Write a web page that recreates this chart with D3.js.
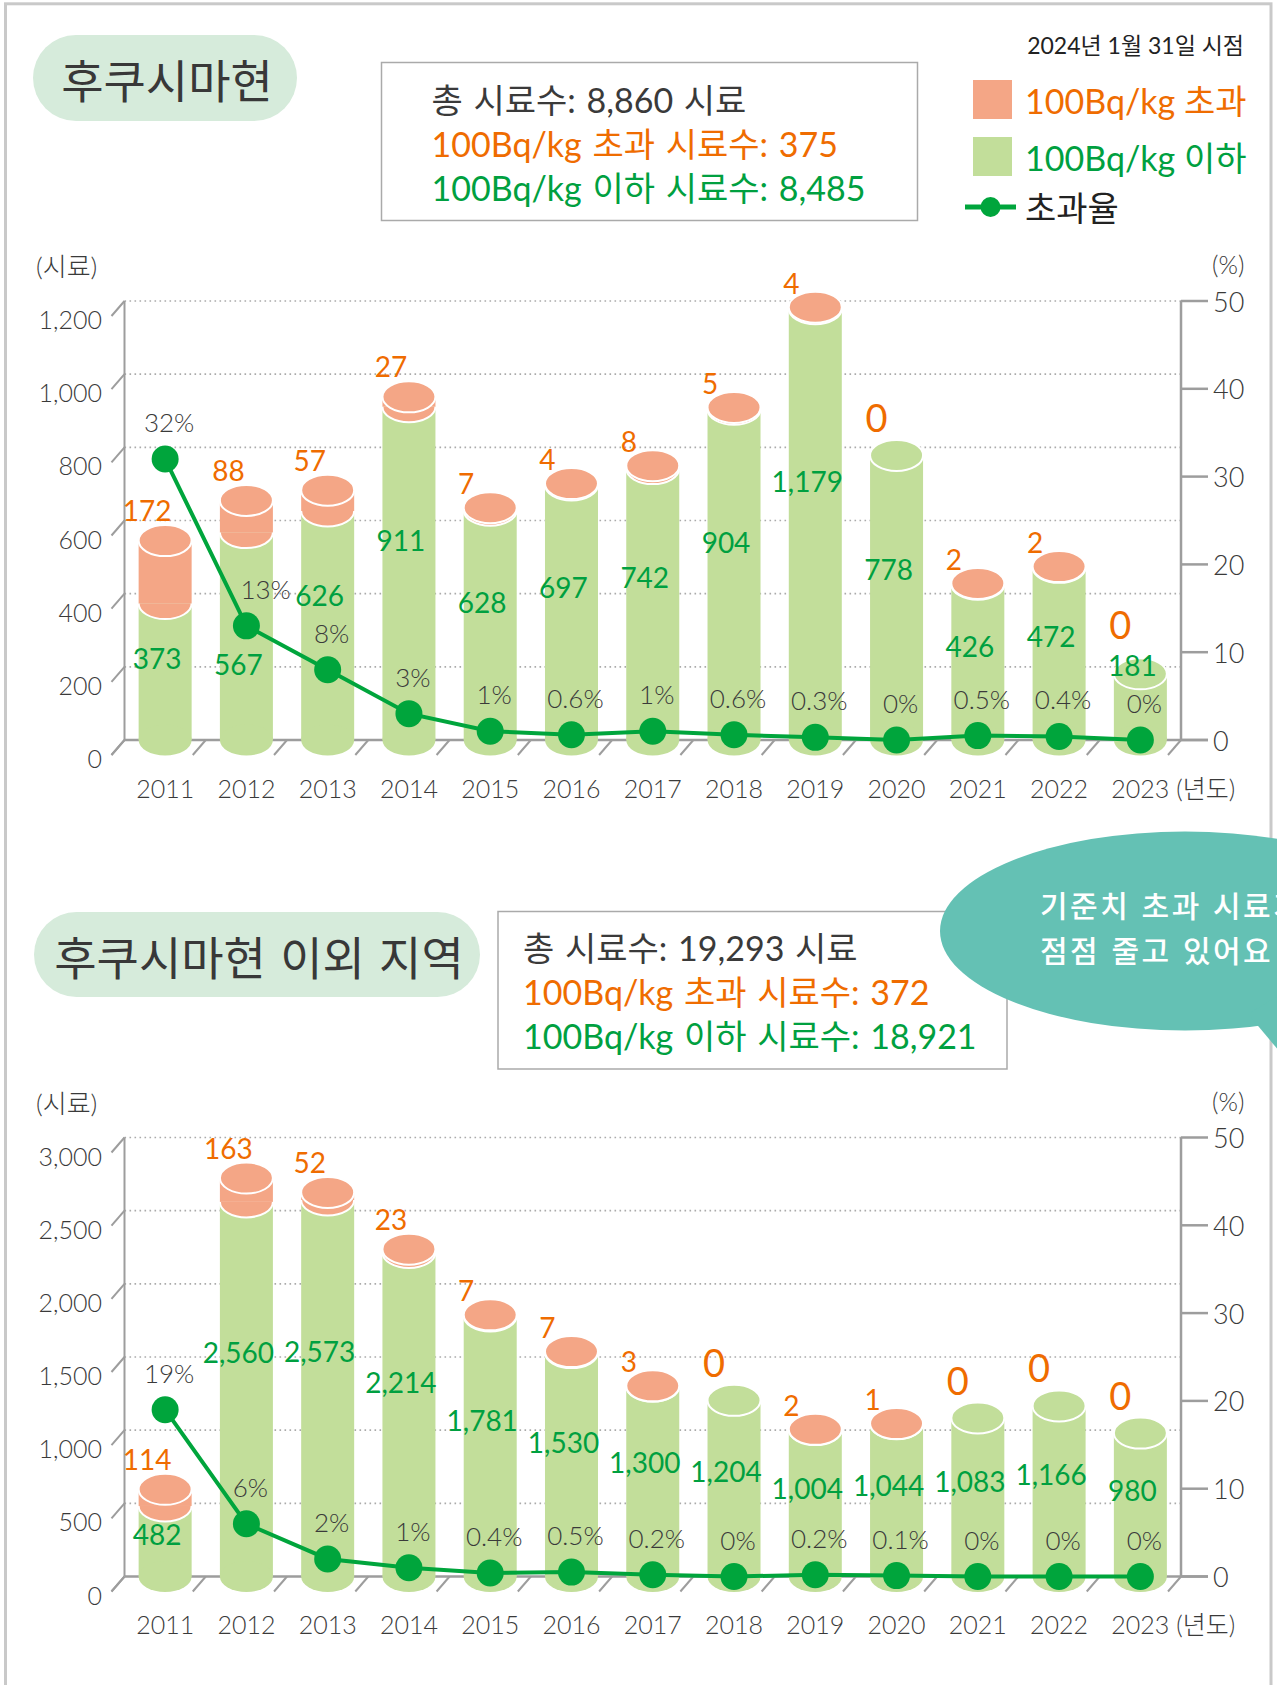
<!DOCTYPE html>
<html>
<head>
<meta charset="utf-8">
<script src="https://cdn.jsdelivr.net/npm/d3@7"></script>
<style>
  body { margin: 0; background: #fff; }
  svg { display: block; font-family: "Noto Sans CJK KR", "Noto Sans", sans-serif; }
  .num { font-family: Lato, "Noto Sans CJK KR", sans-serif; font-weight: 300; }
  .val { font-family: Lato, "Noto Sans CJK KR", sans-serif; font-weight: 400; }
  .mix { font-family: Lato, "Noto Sans CJK KR", sans-serif; font-weight: 400; }
</style>
</head>
<body>
<svg id="chart" width="1277" height="1685"></svg>
<script>
// --- data ---
const years = [2011, 2012, 2013, 2014, 2015, 2016, 2017, 2018, 2019, 2020, 2021, 2022, 2023];

// Fukushima prefecture
const fkOver  = [172, 88, 57, 27, 7, 4, 8, 5, 4, 0, 2, 2, 0];
const fkUnder = [373, 567, 626, 911, 628, 697, 742, 904, 1179, 778, 426, 472, 181];
const fkRate  = [32, 13, 8, 3, 1, 0.6, 1, 0.6, 0.3, 0, 0.5, 0.4, 0];
const fkTicks = [0, 200, 400, 600, 800, 1000, 1200];
const fkSummary = ["총 시료수: 8,860 시료", "100Bq/kg 초과 시료수: 375", "100Bq/kg 이하 시료수: 8,485"];

// outside Fukushima
const otOver  = [114, 163, 52, 23, 7, 7, 3, 0, 2, 1, 0, 0, 0];
const otUnder = [482, 2560, 2573, 2214, 1781, 1530, 1300, 1204, 1004, 1044, 1083, 1166, 980];
const otRate  = [19, 6, 2, 1, 0.4, 0.5, 0.2, 0, 0.2, 0.1, 0, 0, 0];
const otTicks = [0, 500, 1000, 1500, 2000, 2500, 3000];
const otSummary = ["총 시료수: 19,293 시료", "100Bq/kg 초과 시료수: 372", "100Bq/kg 이하 시료수: 18,921"];

const rateTicks = [0, 10, 20, 30, 40, 50];

// --- colours ---
const ORANGE = "#ef6c00", GREEN = "#00a040", DARK = "#3a3a3a";
const FILL_OVER = "#f4a686", FILL_UNDER = "#c2de9a", DOT = "#00a53c";
const AXIS = "#9d9d9d";

const svg = d3.select("#chart");
const fmt = d3.format(",");

// outer frame
svg.append("rect")
  .attr("x", 5.5).attr("y", 3.8).attr("width", 1265.5).attr("height", 1720)
  .attr("fill", "none").attr("stroke", "#c9c9c9").attr("stroke-width", 3);

function header(title, pill, box, lines) {
  svg.append("rect")
    .attr("x", pill.x).attr("y", pill.y).attr("width", pill.w).attr("height", pill.h)
    .attr("rx", pill.h / 2).attr("fill", "#d6ebdb");
  svg.append("text")
    .attr("x", pill.x + pill.w / 2 + 2).attr("y", pill.y + pill.h / 2)
    .attr("text-anchor", "middle").attr("dominant-baseline", "central")
    .attr("font-size", 46).attr("word-spacing", 4).attr("fill", "#383838").text(title);

  svg.append("rect")
    .attr("x", box.x).attr("y", box.y).attr("width", box.w).attr("height", box.h)
    .attr("fill", "#fff").attr("stroke", "#aaa").attr("stroke-width", 1.5);
  svg.selectAll(null).data(lines).join("text")
    .attr("class", "mix")
    .attr("x", box.x + box.pad)
    .attr("y", (d, i) => box.y + box.first + i * 44)
    .attr("dominant-baseline", "central")
    .attr("font-size", 34).attr("word-spacing", 2)
    .attr("fill", (d, i) => [DARK, ORANGE, GREEN][i])
    .text(d => d);
}

function overlaps(a, b) {
  return a.x < b.x + b.width && b.x < a.x + a.width && a.y < b.y + b.height && b.y < a.y + a.height;
}

function drawPanel(over, under, rate, ticks, floor) {
  const top = floor - 439;
  const SX = -13, SY = 15;         // depth slant of the floor
  const rx = 26.5, ry = 15.5;      // cylinder ellipse
  const x = d3.scaleBand().domain(years).range([124.5, 1181]);
  const y = d3.scaleLinear().domain([0, ticks[ticks.length - 1]]).range([floor, top]);
  const yr = d3.scaleLinear().domain([0, 50]).range([floor, top]);
  const cx = d => x(d) + x.bandwidth() / 2;
  const g = svg.append("g");

  // dotted grid on the back wall
  g.append("g").selectAll("line").data(ticks.slice(1)).join("line")
    .attr("x1", 124.5).attr("x2", 1181)
    .attr("y1", d => y(d)).attr("y2", d => y(d))
    .attr("stroke", "#aaa").attr("stroke-width", 1.6).attr("stroke-dasharray", "1.6,3.4");

  // left axis
  g.append("line").attr("x1", 124.5).attr("x2", 124.5).attr("y1", top).attr("y2", floor)
    .attr("stroke", AXIS).attr("stroke-width", 2);
  g.append("g").selectAll("line").data(ticks).join("line")
    .attr("x1", 124.5).attr("y1", d => y(d))
    .attr("x2", 124.5 + SX).attr("y2", d => y(d) + SY)
    .attr("stroke", AXIS).attr("stroke-width", 2);
  g.append("g").selectAll("text").data(ticks).join("text")
    .attr("class", "num")
    .attr("x", 102).attr("y", d => y(d) + 18)
    .attr("text-anchor", "end").attr("dominant-baseline", "central")
    .attr("font-size", 25).attr("fill", DARK)
    .text(d => fmt(d));
  g.append("text").attr("class", "num").attr("x", 36).attr("y", top - 35)
    .attr("dominant-baseline", "central").attr("font-size", 26)
    .attr("fill", DARK).text("(시료)");

  // floor
  g.append("line").attr("x1", 124.5).attr("x2", 1208).attr("y1", floor).attr("y2", floor)
    .attr("stroke", AXIS).attr("stroke-width", 2.5);
  g.append("g").selectAll("line").data(years.map(d => x(d)).concat([x.range()[1]])).join("line")
    .attr("x1", d => d).attr("y1", floor)
    .attr("x2", d => d + SX).attr("y2", floor + SY)
    .attr("stroke", AXIS).attr("stroke-width", 2);

  // right axis (%)
  g.append("line").attr("x1", 1181).attr("x2", 1181).attr("y1", top).attr("y2", floor)
    .attr("stroke", AXIS).attr("stroke-width", 2.5);
  g.append("g").selectAll("line").data(rateTicks).join("line")
    .attr("x1", 1181).attr("x2", 1208).attr("y1", d => yr(d)).attr("y2", d => yr(d))
    .attr("stroke", AXIS).attr("stroke-width", 2.5);
  g.append("g").selectAll("text").data(rateTicks).join("text")
    .attr("class", "num")
    .attr("x", 1213).attr("y", d => yr(d))
    .attr("dominant-baseline", "central")
    .attr("font-size", 27).attr("fill", DARK)
    .text(d => d);
  g.append("text").attr("class", "num").attr("x", 1212).attr("y", top - 37)
    .attr("dominant-baseline", "central").attr("font-size", 25)
    .attr("fill", DARK).text("(%)");

  // year labels
  g.append("g").selectAll("text").data(years).join("text")
    .attr("class", "num")
    .attr("x", d => cx(d)).attr("y", floor + 47.5)
    .attr("text-anchor", "middle").attr("dominant-baseline", "central")
    .attr("font-size", 25).attr("fill", DARK)
    .text(d => d);
  g.append("text").attr("class", "num")
    .attr("x", cx(years[years.length - 1]) + 36).attr("y", floor + 47.5)
    .attr("dominant-baseline", "central").attr("font-size", 25)
    .attr("fill", DARK).text("(년도)");

  // cylinders
  const bars = g.append("g");
  years.forEach((yy, i) => {
    const c = cx(yy);
    const yG = y(under[i]), yT = y(under[i] + over[i]);
    bars.append("rect").attr("x", c - rx).attr("y", yG).attr("width", 2 * rx)
      .attr("height", floor - yG).attr("fill", FILL_UNDER);
    bars.append("ellipse").attr("cx", c).attr("cy", floor).attr("rx", rx).attr("ry", ry)
      .attr("fill", FILL_UNDER);
    if (over[i] > 0) {
      bars.append("rect").attr("x", c - rx).attr("y", yT).attr("width", 2 * rx)
        .attr("height", yG - yT).attr("fill", FILL_OVER);
      const arc = `M${c - rx},${yG} A${rx},${ry} 0 0 0 ${c + rx},${yG}`;
      bars.append("path").attr("d", arc + " Z").attr("fill", FILL_OVER);
      bars.append("path").attr("d", arc).attr("fill", "none")
        .attr("stroke", "#fff").attr("stroke-width", 2);
    }
    bars.append("ellipse").attr("cx", c).attr("cy", yT).attr("rx", rx).attr("ry", ry)
      .attr("fill", over[i] > 0 ? FILL_OVER : FILL_UNDER)
      .attr("stroke", "#fff").attr("stroke-width", 2);
  });

  // rate line + dots
  const pts = years.map((yy, i) => [cx(yy), yr(rate[i])]);
  g.append("path").attr("d", d3.line()(pts)).attr("fill", "none")
    .attr("stroke", DOT).attr("stroke-width", 4);
  g.append("g").selectAll("circle").data(pts).join("circle")
    .attr("cx", d => d[0]).attr("cy", d => d[1]).attr("r", 13.5).attr("fill", DOT);

  const labels = g.append("g");
  years.forEach((yy, i) => {
    const c = cx(yy);
    const dotY = pts[i][1];

    // percentage label, pushed clear of the incoming line segment
    const pctY = dotY - 37;
    const t = labels.append("text").attr("class", "num")
      .attr("x", c + 4).attr("y", pctY)
      .attr("text-anchor", "middle").attr("dominant-baseline", "central")
      .attr("font-size", 26).attr("fill", DARK)
      .text(rate[i] + "%");
    const w = t.node().getComputedTextLength();
    if (i > 0) {
      const [x0, y0] = pts[i - 1], [x1, y1] = pts[i];
      if ((pctY - y0) * (pctY - y1) < 0) {
        const xl = x0 + (pctY - y0) / (y1 - y0) * (x1 - x0);
        if (c + 4 - w / 2 < xl + 12) t.attr("x", xl + 12 + w / 2);
      }
    }

    // exceed count label above the cylinder
    const yT = y(under[i] + over[i]);
    const zero = over[i] === 0;
    const single = over[i] < 10;
    const ot = labels.append("text").attr("class", "val")
      .attr("x", c + (zero ? -20 : single ? -24 : -18))
      .attr("y", yT - ry - (zero ? 23 : single ? 9 : 15))
      .attr("text-anchor", "middle").attr("dominant-baseline", "central")
      .attr("font-size", zero ? 38 : 28).attr("fill", ORANGE)
      .text(fmt(over[i]));

    // below-limit count label inside the green body
    const yG = y(under[i]);
    let ly = yG + 0.4 * (floor - yG);
    if (Math.abs(ly - dotY) < 28) ly = dotY + 38;
    if (Math.abs(ly - pctY) < 36) ly = pctY - 38;
    const gt = labels.append("text").attr("class", "val")
      .attr("x", c - 8).attr("y", ly)
      .attr("text-anchor", "middle").attr("dominant-baseline", "central")
      .attr("font-size", 28).attr("fill", GREEN)
      .text(fmt(under[i]));

    // keep the exceed label above the green one when the bar is short
    const a = ot.node().getBBox(), b = gt.node().getBBox();
    if (overlaps(a, b)) ot.attr("y", +ot.attr("y") - (a.y + a.height - b.y) - 1);
  });
}

// --- top block ---
header("후쿠시마현", {x: 33, y: 35, w: 264, h: 86},
  {x: 381.5, y: 62.5, w: 536, h: 158, pad: 50, first: 36.5}, fkSummary);

svg.append("text").attr("class", "mix").attr("x", 1244).attr("y", 45).attr("text-anchor", "end")
  .attr("dominant-baseline", "central").attr("font-size", 23).attr("fill", "#222")
  .text("2024년 1월 31일 시점");

// legend
const legend = svg.append("g").attr("class", "mix");
legend.append("rect").attr("x", 973).attr("y", 80).attr("width", 39).attr("height", 39).attr("fill", FILL_OVER);
legend.append("text").attr("x", 1025).attr("y", 100).attr("dominant-baseline", "central")
  .attr("font-size", 34).attr("fill", ORANGE).text("100Bq/kg 초과");
legend.append("rect").attr("x", 973).attr("y", 137).attr("width", 39).attr("height", 39).attr("fill", FILL_UNDER);
legend.append("text").attr("x", 1025).attr("y", 157).attr("dominant-baseline", "central")
  .attr("font-size", 34).attr("fill", GREEN).text("100Bq/kg 이하");
legend.append("line").attr("x1", 965).attr("x2", 1016).attr("y1", 207).attr("y2", 207)
  .attr("stroke", DOT).attr("stroke-width", 5);
legend.append("circle").attr("cx", 990.5).attr("cy", 207).attr("r", 10).attr("fill", DOT);
legend.append("text").attr("x", 1025).attr("y", 207).attr("dominant-baseline", "central")
  .attr("font-size", 34).attr("fill", "#222").text("초과율");

drawPanel(fkOver, fkUnder, fkRate, fkTicks, 740);

// --- bottom block ---
header("후쿠시마현 이외 지역", {x: 34, y: 912, w: 446, h: 85},
  {x: 498, y: 911.5, w: 509, h: 157.5, pad: 25, first: 35.5}, otSummary);

drawPanel(otOver, otUnder, otRate, otTicks, 1576.5);

// speech bubble
svg.append("ellipse").attr("cx", 1185).attr("cy", 931).attr("rx", 245).attr("ry", 99.5)
  .attr("fill", "#64c1b4");
svg.append("path").attr("d", "M1248,1014 L1280,1052 L1280,995 Z").attr("fill", "#64c1b4");
svg.selectAll(null).data(["기준치 초과 시료가", "점점 줄고 있어요"]).join("text")
  .attr("x", 1040).attr("y", (d, i) => 904 + i * 45)
  .attr("dominant-baseline", "central").attr("font-size", 30).attr("font-weight", 500)
  .attr("letter-spacing", 2.5).attr("word-spacing", 2).attr("fill", "#fff")
  .text(d => d);
</script>
</body>
</html>
